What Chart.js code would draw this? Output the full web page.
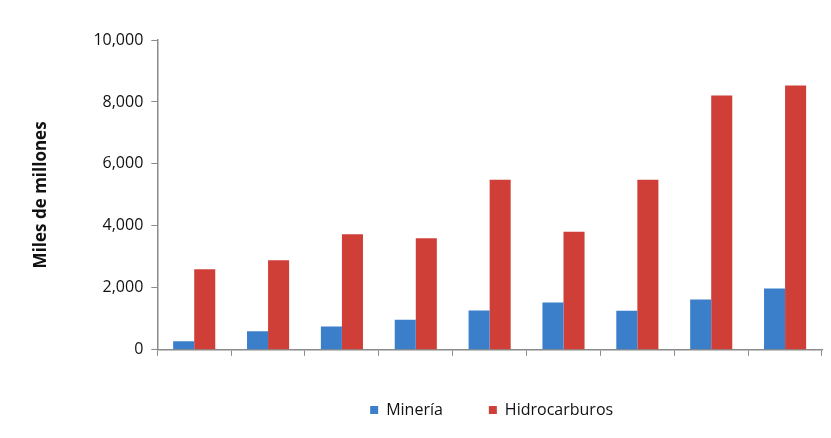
<!DOCTYPE html>
<html>
<head>
<meta charset="utf-8">
<script src="https://cdn.jsdelivr.net/npm/chart.js@4"></script>
<style>
  html, body { margin: 0; padding: 0; background: #fff; }
  #wrap { width: 831px; height: 438px; }
</style>
</head>
<body>
<div id="wrap"><canvas id="grafico" width="831" height="438"></canvas></div>
<script>
// etiquetas del eje X (ilegibles en el original)
const categorias = ['', '', '', '', '', '', '', '', ''];
const mineria = [280, 600, 750, 970, 1270, 1530, 1260, 1620, 1980];
const hidrocarburos = [2600, 2890, 3730, 3600, 5490, 3810, 5490, 8210, 8530];
const ticksY = [0, 2000, 4000, 6000, 8000, 10000];

const fuente = "'Open Sans', 'Liberation Sans', sans-serif";
const colorEje = '#8a8a8a';

// la leyenda va centrada sobre el área del gráfico, no sobre el lienzo
const leyendaCentrada = {
    id: 'leyendaCentrada',
    afterLayout(chart) {
        const ley = chart.legend;
        const dx = (chart.chartArea.left + chart.chartArea.right) / 2 + 2 - (ley.left + ley.right) / 2;
        ley.left += dx;
        ley.right += dx;
    }
};

const ctx = document.getElementById('grafico').getContext('2d');
new Chart(ctx, {
    type: 'bar',
    data: {
        labels: categorias,
        datasets: [
            { label: 'Minería', data: mineria, backgroundColor: '#3b7fcb' },
            { label: 'Hidrocarburos', data: hidrocarburos, backgroundColor: '#cf3f37' }
        ]
    },
    plugins: [leyendaCentrada],
    options: {
        responsive: false,
        animation: false,
        layout: { padding: { top: 40, right: 9, left: 27, bottom: 10 } },
        datasets: { bar: { barPercentage: 1, categoryPercentage: 0.57 } },
        plugins: {
            tooltip: { enabled: false },
            legend: {
                position: 'bottom',
                labels: {
                    color: '#111', boxWidth: 8, boxHeight: 8, padding: 46,
                    font: { family: fuente, size: 16 }
                }
            }
        },
        scales: {
            x: {
                grid: { display: true, drawOnChartArea: false, drawTicks: true, tickLength: 6, color: colorEje, offset: true },
                border: { display: true, color: colorEje, width: 1.5 },
                ticks: { font: { family: fuente, size: 1 }, color: '#eee', padding: -0.5 }
            },
            y: {
                min: 0, max: 10000,
                afterBuildTicks: (eje) => { eje.ticks = ticksY.map(v => ({ value: v })); },
                grid: { display: true, drawOnChartArea: false, drawTicks: true, tickLength: 6, color: colorEje },
                border: { display: true, color: colorEje, width: 1.5 },
                ticks: {
                    color: '#111', padding: 8,
                    font: { family: fuente, size: 16 },
                    callback: (v) => v.toLocaleString('en-US')
                },
                title: {
                    display: true, text: 'Miles de millones', color: '#111',
                    font: { family: fuente, size: 17, weight: 'bold' }, padding: { bottom: 34 }
                }
            }
        }
    }
});
</script>
</body>
</html>
